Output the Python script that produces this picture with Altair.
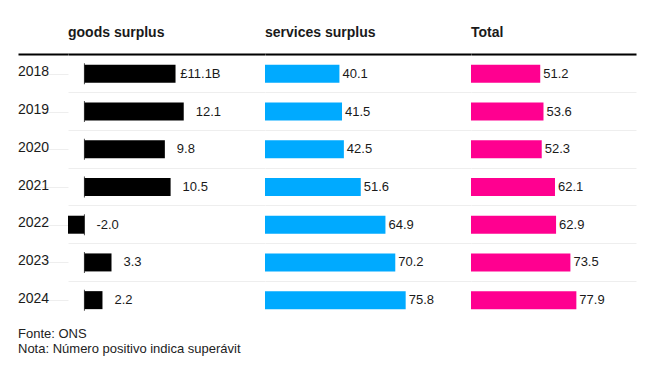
import altair as alt
import pandas as pd

years = ["2018", "2019", "2020", "2021", "2022", "2023", "2024"]
goods = [11.1, 12.1, 9.8, 10.5, -2.0, 3.3, 2.2]
goods_labels = ["11.1B", "12.1", "9.8", "10.5", "-2.0", "3.3", "2.2"]
goods_prefix = ["£", "", "", "", "", "", ""]
services = [40.1, 41.5, 42.5, 51.6, 64.9, 70.2, 75.8]
total = [51.2, 53.6, 52.3, 62.1, 62.9, 73.5, 77.9]

headers = ["goods surplus", "services surplus", "Total"]
footer = ["Fonte: ONS", "Nota: Número positivo indica superávit"]

df = pd.DataFrame({
    "year": years,
    "goods": goods,
    "glabel": goods_labels,
    "gprefix": goods_prefix,
    "services": services,
    "total": total,
})

H = 264
TXT = "#1a1a1a"
LBL = 13


def yenc():
    return alt.Y(
        "year:N",
        sort=years,
        scale=alt.Scale(paddingInner=0, paddingOuter=0),
        axis=alt.Axis(title=None, labels=False, ticks=False, domain=False,
                      grid=True, gridColor="#eeeeee", gridWidth=1, bandPosition=0),
    )


def xaxis():
    return alt.Axis(orient="top", labels=False, ticks=False, grid=False, title=None,
                    domain=True, domainColor="#000000", domainWidth=2, offset=1)


def head(text):
    return alt.TitleParams(text, anchor="start", frame="group", fontSize=14,
                           fontWeight="bold", baseline="alphabetic", offset=3,
                           color=TXT)


base = alt.Chart(df)

year_panel = base.mark_text(align="left", baseline="middle", fontSize=14,
                            dy=-1.5, color=TXT).encode(
    x=alt.XDatum(0, type="quantitative", scale=alt.Scale(domain=[0, 1]), axis=xaxis()),
    y=yenc(),
    text="year:N",
).properties(width=50, height=H, title=head(" "))

gx = alt.Scale(domain=[-2, 22], nice=False, zero=False)
g_bars = base.mark_bar(size=18, color="#000000").encode(
    x=alt.X("goods:Q", scale=gx, axis=xaxis()),
    y=yenc(),
)
g_zero = base.mark_tick(thickness=1, size=21, color="#000000", orient="vertical").encode(
    x=alt.datum(0),
    y=yenc(),
)
g_text = base.transform_calculate(gpos="max(datum.goods, 0)").mark_text(
    align="left", baseline="middle", dx=12, fontSize=LBL, color=TXT).encode(
    x="gpos:Q", y=yenc(), text="glabel:N")
g_pre = base.transform_calculate(gpos="max(datum.goods, 0)").mark_text(
    align="right", baseline="middle", dx=12, fontSize=LBL, color=TXT).encode(
    x="gpos:Q", y=yenc(), text="gprefix:N")
goods_panel = alt.layer(g_bars, g_zero, g_text, g_pre).properties(
    width=197, height=H, title=head(headers[0]))

sx = alt.Scale(domain=[0, 111], nice=False)
s_bars = base.mark_bar(size=18, color="#00aaff").encode(
    x=alt.X("services:Q", scale=sx, axis=xaxis()), y=yenc())
s_text = base.mark_text(align="left", baseline="middle", dx=3, fontSize=LBL,
                        color=TXT).encode(
    x="services:Q", y=yenc(), text=alt.Text("services:Q", format=".1f"))
services_panel = alt.layer(s_bars, s_text).properties(
    width=206, height=H, title=head(headers[1]))

tx = alt.Scale(domain=[0, 122], nice=False)
t_bars = base.mark_bar(size=18, color="#ff0090").encode(
    x=alt.X("total:Q", scale=tx, axis=xaxis()), y=yenc())
t_text = base.mark_text(align="left", baseline="middle", dx=3, fontSize=LBL,
                        color=TXT).encode(
    x="total:Q", y=yenc(), text=alt.Text("total:Q", format=".1f"))
total_panel = alt.layer(t_bars, t_text).properties(
    width=165, height=H, title=head(headers[2]))

chart = alt.hconcat(
    year_panel, goods_panel, services_panel, total_panel, spacing=0
).properties(
    title=alt.TitleParams(footer, orient="bottom", anchor="start", frame="group",
                          fontSize=13, fontWeight="normal", lineHeight=15,
                          baseline="top", offset=9, color="#222222"),
    padding={"left": 10, "top": 18, "right": 10, "bottom": 5},
).configure(font="Liberation Sans").configure_view(stroke=None)

chart.save("out.html", embed_options={"renderer": "svg", "actions": False})
